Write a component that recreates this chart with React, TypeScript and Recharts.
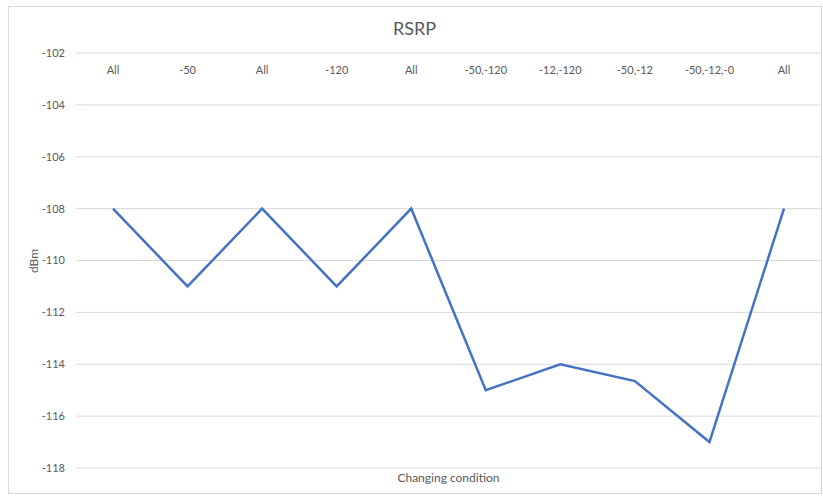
import { CartesianGrid, Line, LineChart, XAxis, YAxis } from "recharts";

const conditions = [
  "All",
  "-50",
  "All",
  "-120",
  "All",
  "-50,-120",
  "-12,-120",
  "-50,-12",
  "-50,-12,-0",
  "All",
];
const rsrp = [-108, -111, -108, -111, -108, -115, -114, -114.65, -117, -108];
const yTicks = [-118, -116, -114, -112, -110, -108, -106, -104, -102];

const FONT = "Lato, 'Open Sans', sans-serif";
const GREY = "#595959";

// category labels sit just under the top gridline, like Excel's axis-at-max
function TopTick(props: any) {
  const { x, y, payload } = props;
  return (
    <text
      x={x}
      y={y}
      dy={29}
      textAnchor="middle"
      fill={GREY}
      fontSize={11}
      fontFamily={FONT}
    >
      {payload.value}
    </text>
  );
}

export default function App() {
  const data = conditions.map((name, i) => ({ name, value: rsrp[i] }));

  return (
    <div
      style={{
        position: "absolute",
        left: 0,
        top: 0,
        width: 823,
        height: 498,
        background: "#fff",
        fontFamily: FONT,
      }}
    >
      <div
        style={{
          position: "absolute",
          left: 8,
          top: 6,
          width: 812,
          height: 486,
          border: "1px solid #d9d9d9",
        }}
      />
      <div
        style={{
          position: "absolute",
          left: 8,
          width: 813,
          top: 17,
          textAlign: "center",
          fontSize: 18,
          color: GREY,
        }}
      >
        RSRP
      </div>
      <div
        style={{
          position: "absolute",
          left: 76,
          width: 745,
          top: 470,
          textAlign: "center",
          fontSize: 12,
          color: GREY,
        }}
      >
        Changing condition
      </div>
      <div
        style={{
          position: "absolute",
          left: 33,
          top: 261,
          transform: "translate(-50%, -50%) rotate(-90deg)",
          fontSize: 12,
          color: GREY,
        }}
      >
        dBm
      </div>
      <LineChart
        width={823}
        height={498}
        data={data}
        margin={{ top: 52, right: 2, left: 0, bottom: 30 }}
        style={{ position: "absolute", left: 0, top: 0 }}
      >
        <CartesianGrid vertical={false} stroke="#d9d9d9" />
        <XAxis
          dataKey="name"
          orientation="top"
          height={1}
          axisLine={false}
          tickLine={false}
          interval={0}
          padding={{ left: 37, right: 37 }}
          tick={<TopTick />}
        />
        <YAxis
          domain={[-118, -102]}
          ticks={yTicks}
          width={76}
          axisLine={false}
          tickLine={false}
          tickMargin={5}
          tick={{ fill: GREY, fontSize: 11, fontFamily: FONT }}
        />
        <Line
          type="linear"
          dataKey="value"
          stroke="#4472c4"
          strokeWidth={2.5}
          dot={false}
          isAnimationActive={false}
        />
      </LineChart>
    </div>
  );
}
